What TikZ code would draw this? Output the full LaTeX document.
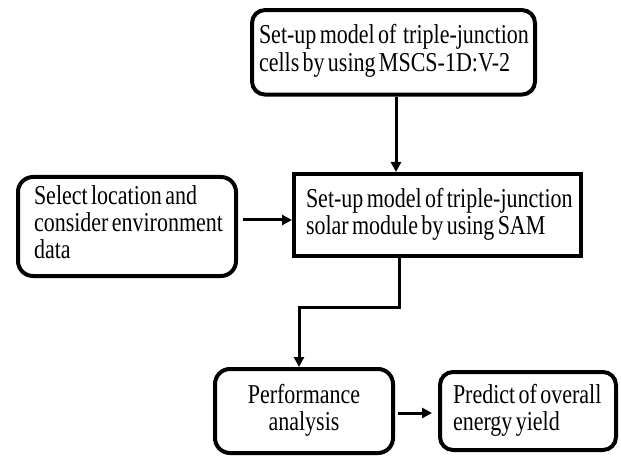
\documentclass[tikz,border=0pt]{standalone}
\usepackage{fontspec}
\usepackage{graphicx}
\setmainfont{Liberation Serif}[WordSpace=1.3]
\usetikzlibrary{arrows.meta}
% tall, narrow type: #2 = line pitch, #3 = vertical shift, #4 = lines
\newcommand{\tallblock}[4][l]{\raisebox{#3}{\scalebox{1}[1.24]{\fontsize{22}{#2}\selectfont\begin{tabular}{@{}#1@{}}#4\end{tabular}}}}
\begin{document}
\begin{tikzpicture}[x=1pt,y=-1pt,
  roundbox/.style={draw, line width=4pt, rounded corners=13pt, align=left, anchor=center, inner ysep=0pt},
  plainbox/.style={draw, line width=4pt, align=left, anchor=center, inner ysep=0pt},
  flow/.style={line width=3pt, -{Triangle[length=10pt,width=10pt]}}]
\useasboundingbox (0,0) rectangle (621,457);
% process boxes
\node[roundbox, minimum width=283pt, minimum height=84.5pt, text width=269pt, inner xsep=7pt] (cells) at (393.5,52.3)
  {\tallblock{22.6pt}{-2.1pt}{Set-up model of\ \ triple-junction\\cells by using MSCS-1D:V-2}};
\node[plainbox, minimum width=287pt, minimum height=82pt, text width=263pt, inner xsep=12pt] (module) at (437.5,215)
  {\tallblock{21.5pt}{-4.7pt}{Set-up model of triple-junction\\solar module by using SAM}};
\node[roundbox, minimum width=218pt, minimum height=99pt, text width=186pt, inner xsep=16pt, rounded corners=15pt] (location) at (127,226.5)
  {\tallblock{21.8pt}{-6pt}{Select location and\\consider environment\\data}};
\node[roundbox, minimum width=178pt, minimum height=84pt, align=center, rounded corners=15pt] (perf) at (304,411)
  {\tallblock[c]{19.6pt}{-2pt}{Performance\\analysis}};
\node[roundbox, minimum width=176pt, minimum height=78pt, text width=150pt, inner xsep=13pt] (yield) at (528,411)
  {\tallblock{20.6pt}{-6.6pt}{Predict of overall\\energy yield}};
% connector guide points
\coordinate (c1) at (396,0);
\coordinate (c2) at (399,307);
\coordinate (c3) at (299,307);
% connectors
\draw[flow] (cells.south -| c1) -- (module.north -| c1);
\draw[flow] ([xshift=5pt]location.east |- 0,220) -- (module.west |- 0,220);
\draw[flow] (module.south -| c2) -- (c2) -- (c3) -- (perf.north -| c3);
\draw[flow] ([xshift=3pt]perf.east |- 0,413) -- ([xshift=-6pt]yield.west |- 0,413);
\end{tikzpicture}
\end{document}
